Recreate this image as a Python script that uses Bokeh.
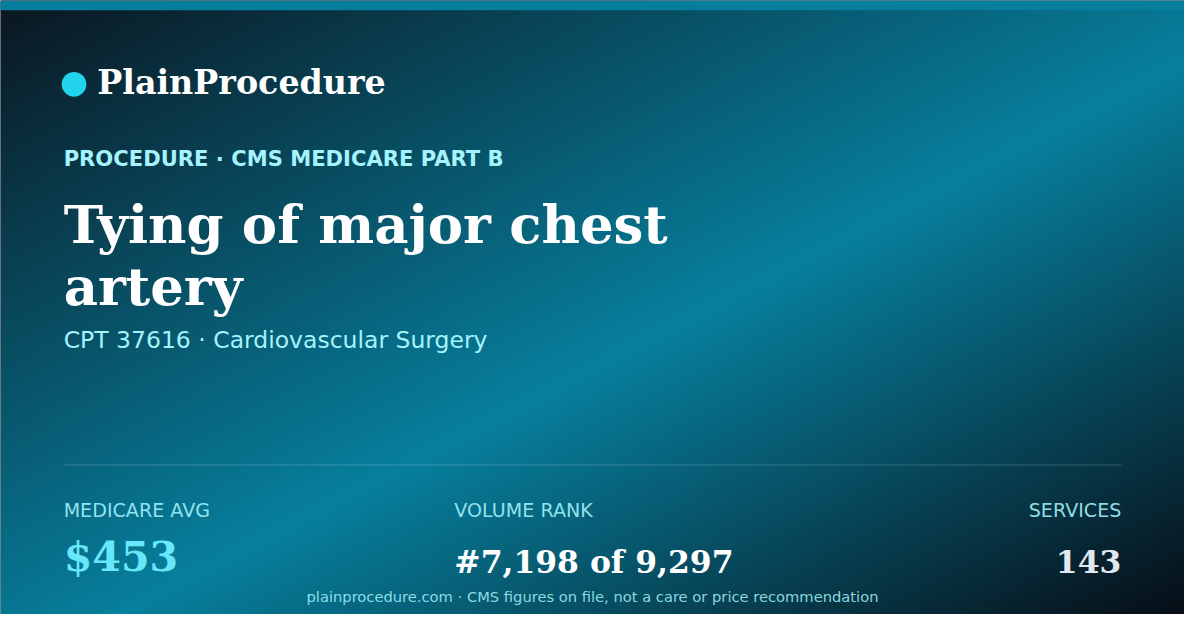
import numpy as np
from bokeh.plotting import figure
from bokeh.models import Range1d
from bokeh.core.properties import value
from bokeh.embed import file_html
from bokeh.resources import INLINE

# ---- content ----
brand = "PlainProcedure"
kicker = "PROCEDURE · CMS MEDICARE PART B"
title_lines = ["Tying of major chest", "artery"]
subtitle = "CPT 37616 · Cardiovascular Surgery"
stat_labels = ["MEDICARE AVG", "VOLUME RANK", "SERVICES"]
stat_values = ["$453", "#7,198 of 9,297", "143"]
footer = "plainprocedure.com · CMS figures on file, not a care or price recommendation"

W, H = 1200, 630
MARGIN = 8
FS = 0.98  # font scale (figure is slightly smaller than reference canvas)

def Y(y):  # reference (top-down) pixel -> data (bottom-up)
    return H - y

def fs(px):
    return "%.1fpx" % (px * FS)

def mid(baseline, size):  # text placed by its middle, from a reference baseline
    return Y(baseline - 0.35 * size)

p = figure(width=W - 2 * MARGIN, height=H - 2 * MARGIN,
           x_range=Range1d(0, W), y_range=Range1d(0, H),
           output_backend="svg", toolbar_location=None,
           x_axis_location=None, y_axis_location=None, min_border=0)
p.grid.visible = False
p.outline_line_color = None
p.background_fill_color = "#0b1620"
p.border_fill_color = "#0b1620"

# ---- background gradient (diagonal) ----
gw, gh = 600, 315
xs = (np.arange(gw) + 0.5) / gw
ys_top = 1.0 - (np.arange(gh) + 0.5) / gh   # row 0 = bottom
X, YY = np.meshgrid(xs, ys_top)
t = (X + YY) / 2.0
stops = [(0.0, (11, 22, 32)), (0.55, (7, 128, 158)), (1.0, (8, 14, 22))]
rgb = np.zeros((gh, gw, 3))
for (t0, c0), (t1, c1) in zip(stops[:-1], stops[1:]):
    m = (t >= t0) & (t <= t1)
    f = ((t - t0) / (t1 - t0))[m]
    for k in range(3):
        rgb[..., k][m] = c0[k] + (c1[k] - c0[k]) * f
img = np.zeros((gh, gw), dtype=np.uint32)
view = img.view(dtype=np.uint8).reshape((gh, gw, 4))
view[..., 0] = rgb[..., 0].astype(np.uint8)
view[..., 1] = rgb[..., 1].astype(np.uint8)
view[..., 2] = rgb[..., 2].astype(np.uint8)
view[..., 3] = 255
p.image_rgba(image=[img], x=0, y=0, dw=W, dh=H)

# top bar
p.quad(left=0, right=W, bottom=Y(10), top=Y(0), fill_color="#077e9d", line_color=None)

SERIF = value("DejaVu Serif")
SANS = value("DejaVu Sans")

# brand
p.circle(x=[74.5], y=[Y(86)], radius=12.5, fill_color="#22d3ee", line_color=None)
p.text(x=[98], y=[mid(96, 34)], text=[brand], text_font=SERIF, text_font_style="bold",
       text_font_size=fs(34), text_color="#ffffff", text_baseline="middle")

# kicker
p.text(x=[64], y=[mid(170, 21.5)], text=[kicker], text_font=SANS, text_font_style="bold",
       text_font_size=fs(21.5), text_color="#a5f3fc", text_baseline="middle")

# title
p.text(x=[64, 64], y=[mid(248, 54), mid(312, 54)], text=title_lines, text_font=SERIF,
       text_font_style="bold", text_font_size=fs(54), text_color="#ffffff",
       text_baseline="middle")

# subtitle
p.text(x=[64], y=[mid(357, 24)], text=[subtitle], text_font=SANS, text_font_size=fs(24),
       text_color="#a5f3fc", text_baseline="middle")

# divider
p.segment(x0=[64], y0=[Y(476.5)], x1=[1136], y1=[Y(476.5)], line_color="#ffffff",
          line_alpha=0.18, line_width=1)

# stats
sx = [64, 460, 1136]
sal = ["left", "left", "right"]
p.text(x=sx, y=[mid(530, 19.5)] * 3, text=stat_labels, text_font=SANS,
       text_font_size=fs(19.5), text_color="#a5f3fc", text_alpha=0.9, text_align=sal,
       text_baseline="middle")
p.text(x=sx, y=[mid(585, 42), mid(587, 32), mid(587, 32)], text=stat_values,
       text_font=SERIF, text_font_style="bold", text_font_size=[fs(42), fs(32), fs(32)],
       text_color=["#67e8f9", "#ffffff", "#e2e8f0"], text_align=sal,
       text_baseline="middle")

# footer
p.text(x=[600], y=[mid(617, 15)], text=[footer], text_font=SANS, text_font_size=fs(15),
       text_color="#a5f3fc", text_alpha=0.85, text_align="center",
       text_baseline="middle")

open("out.html", "w").write(file_html(p, INLINE))
